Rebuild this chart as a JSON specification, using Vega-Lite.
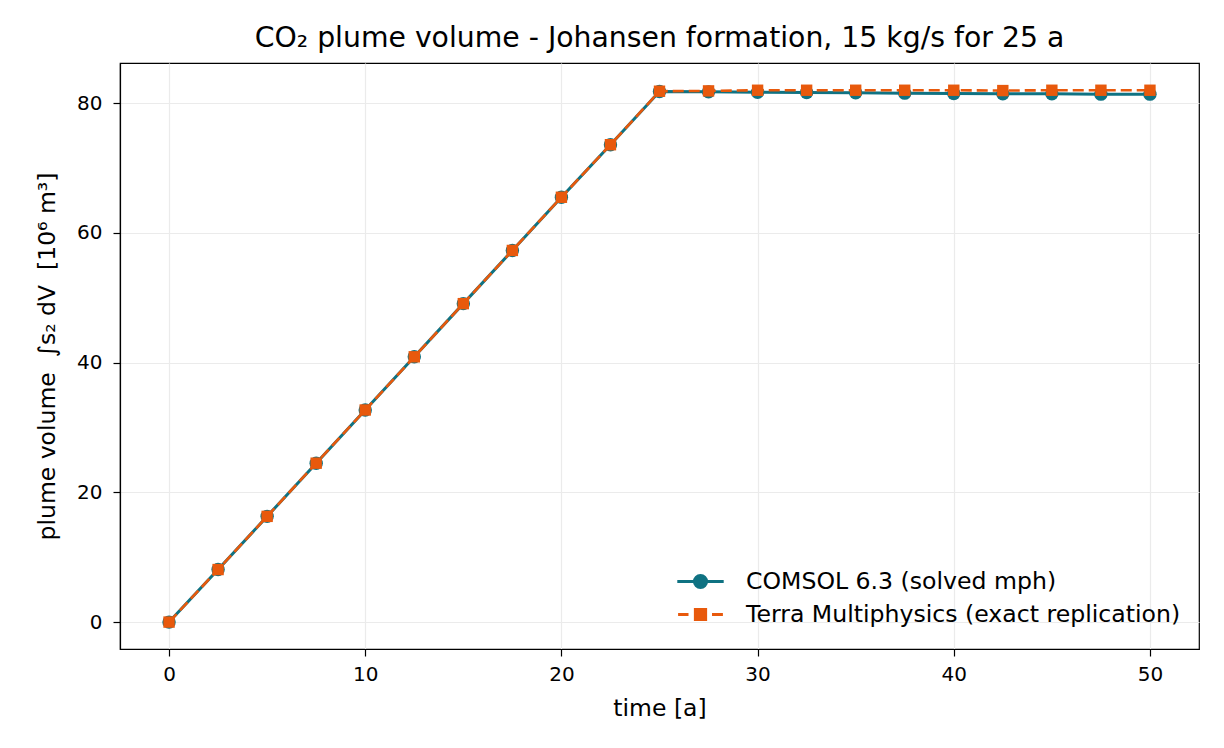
{
  "$schema": "https://vega.github.io/schema/vega-lite/v6.json",
  "autosize": "none",
  "width": 1079,
  "height": 586,
  "padding": {"left": 120, "top": 63, "right": 25, "bottom": 99},
  "background": "white",
  "config": {
    "font": "DejaVu Sans",
    "view": {"stroke": "black", "strokeWidth": 1.2},
    "axis": {
      "domainColor": "black",
      "domainWidth": 1.2,
      "tickColor": "black",
      "tickWidth": 1.2,
      "tickSize": 7,
      "labelColor": "black",
      "labelFont": "DejaVu Sans",
      "labelFontSize": 20,
      "labelPadding": 7,
      "titleColor": "black",
      "titleFont": "DejaVu Sans",
      "titleFontSize": 23.5,
      "titleFontWeight": "normal",
      "gridColor": "#ebebeb",
      "gridWidth": 1.2
    },
    "title": {"font": "DejaVu Sans", "fontSize": 28.3, "fontWeight": "normal", "color": "black", "offset": 10}
  },
  "title": {"text": "CO₂ plume volume - Johansen formation, 15 kg/s for 25 a", "anchor": "middle"},
  "data": {
    "values": [
      {"series": "COMSOL 6.3 (solved mph)", "t": 0, "v": 0},
      {"series": "COMSOL 6.3 (solved mph)", "t": 2.5, "v": 8.1},
      {"series": "COMSOL 6.3 (solved mph)", "t": 5, "v": 16.3},
      {"series": "COMSOL 6.3 (solved mph)", "t": 7.5, "v": 24.5},
      {"series": "COMSOL 6.3 (solved mph)", "t": 10, "v": 32.7},
      {"series": "COMSOL 6.3 (solved mph)", "t": 12.5, "v": 40.9},
      {"series": "COMSOL 6.3 (solved mph)", "t": 15, "v": 49.1},
      {"series": "COMSOL 6.3 (solved mph)", "t": 17.5, "v": 57.3},
      {"series": "COMSOL 6.3 (solved mph)", "t": 20, "v": 65.5},
      {"series": "COMSOL 6.3 (solved mph)", "t": 22.5, "v": 73.6},
      {"series": "COMSOL 6.3 (solved mph)", "t": 25, "v": 81.8},
      {"series": "COMSOL 6.3 (solved mph)", "t": 27.5, "v": 81.75},
      {"series": "COMSOL 6.3 (solved mph)", "t": 30, "v": 81.7},
      {"series": "COMSOL 6.3 (solved mph)", "t": 32.5, "v": 81.65},
      {"series": "COMSOL 6.3 (solved mph)", "t": 35, "v": 81.6},
      {"series": "COMSOL 6.3 (solved mph)", "t": 37.5, "v": 81.55},
      {"series": "COMSOL 6.3 (solved mph)", "t": 40, "v": 81.5},
      {"series": "COMSOL 6.3 (solved mph)", "t": 42.5, "v": 81.45},
      {"series": "COMSOL 6.3 (solved mph)", "t": 45, "v": 81.45},
      {"series": "COMSOL 6.3 (solved mph)", "t": 47.5, "v": 81.4},
      {"series": "COMSOL 6.3 (solved mph)", "t": 50, "v": 81.4},
      {"series": "Terra Multiphysics (exact replication)", "t": 0, "v": 0},
      {"series": "Terra Multiphysics (exact replication)", "t": 2.5, "v": 8.1},
      {"series": "Terra Multiphysics (exact replication)", "t": 5, "v": 16.3},
      {"series": "Terra Multiphysics (exact replication)", "t": 7.5, "v": 24.5},
      {"series": "Terra Multiphysics (exact replication)", "t": 10, "v": 32.7},
      {"series": "Terra Multiphysics (exact replication)", "t": 12.5, "v": 40.9},
      {"series": "Terra Multiphysics (exact replication)", "t": 15, "v": 49.1},
      {"series": "Terra Multiphysics (exact replication)", "t": 17.5, "v": 57.3},
      {"series": "Terra Multiphysics (exact replication)", "t": 20, "v": 65.5},
      {"series": "Terra Multiphysics (exact replication)", "t": 22.5, "v": 73.6},
      {"series": "Terra Multiphysics (exact replication)", "t": 25, "v": 81.85},
      {"series": "Terra Multiphysics (exact replication)", "t": 27.5, "v": 81.9},
      {"series": "Terra Multiphysics (exact replication)", "t": 30, "v": 82.0},
      {"series": "Terra Multiphysics (exact replication)", "t": 32.5, "v": 82.0},
      {"series": "Terra Multiphysics (exact replication)", "t": 35, "v": 82.0},
      {"series": "Terra Multiphysics (exact replication)", "t": 37.5, "v": 82.0},
      {"series": "Terra Multiphysics (exact replication)", "t": 40, "v": 82.0},
      {"series": "Terra Multiphysics (exact replication)", "t": 42.5, "v": 81.95},
      {"series": "Terra Multiphysics (exact replication)", "t": 45, "v": 82.0},
      {"series": "Terra Multiphysics (exact replication)", "t": 47.5, "v": 82.0},
      {"series": "Terra Multiphysics (exact replication)", "t": 50, "v": 82.0}
    ]
  },
  "encoding": {
    "x": {
      "field": "t", "type": "quantitative",
      "scale": {"domain": [-2.5, 52.5], "nice": false, "zero": false},
      "axis": {"values": [0, 10, 20, 30, 40, 50], "title": "time [a]", "titlePadding": 12, "labelPadding": 8}
    },
    "y": {
      "field": "v", "type": "quantitative",
      "scale": {"domain": [-4.15, 86.2], "nice": false, "zero": false},
      "axis": {"values": [0, 20, 40, 60, 80], "title": "plume volume\u00a0\u00a0∫s₂ dV\u00a0\u00a0[10⁶ m³]", "titlePadding": 17, "labelPadding": 11}
    },
    "color": {
      "field": "series", "type": "nominal",
      "scale": {"domain": ["COMSOL 6.3 (solved mph)", "Terra Multiphysics (exact replication)"], "range": ["#0f7282", "#e8590c"]},
      "legend": {
        "title": null,
        "orient": "none",
        "legendX": 563,
        "legendY": 501,
        "padding": 0,
        "labelFont": "DejaVu Sans",
        "labelFontSize": 23.6,
        "labelColor": "black",
        "labelLimit": 600,
        "symbolSize": 1024,
        "labelOffset": 28,
        "rowPadding": 3,
        "encode": {
          "symbols": {
            "update": {
              "shape": {"signal": "datum.value === 'COMSOL 6.3 (solved mph)' ? 'M-1.45,0H1.45M0.38,0A0.38,0.38,0,1,1,-0.38,0A0.38,0.38,0,1,1,0.38,0Z' : 'M-1.4,0H-0.75M0.72,0H1.4M-0.32,-0.32H0.32V0.32H-0.32Z'"},
              "fill": {"signal": "scale('color', datum.value)"},
              "stroke": {"signal": "scale('color', datum.value)"},
              "strokeWidth": {"value": 3},
              "strokeDash": {"value": []},
              "opacity": {"value": 1}
            }
          }
        }
      }
    }
  },
  "layer": [
    {"transform": [{"filter": "datum.series === 'COMSOL 6.3 (solved mph)'"}], "mark": {"type": "line", "strokeWidth": 3}},
    {"transform": [{"filter": "datum.series === 'COMSOL 6.3 (solved mph)'"}], "mark": {"type": "point", "shape": "circle", "filled": true, "size": 180, "opacity": 1}},
    {"transform": [{"filter": "datum.series === 'Terra Multiphysics (exact replication)'"}], "mark": {"type": "line", "strokeWidth": 2.6, "strokeDash": [11, 5]}},
    {"transform": [{"filter": "datum.series === 'Terra Multiphysics (exact replication)'"}], "mark": {"type": "point", "shape": "square", "filled": true, "size": 130, "opacity": 1}}
  ]
}
